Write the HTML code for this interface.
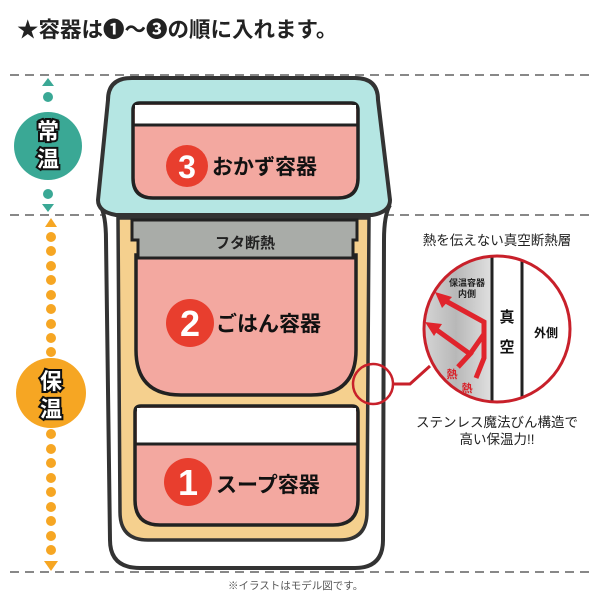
<!DOCTYPE html>
<html><head><meta charset="utf-8"><style>
html,body{margin:0;padding:0;background:#fff;}
svg{display:block;}
text{font-family:"Liberation Sans","Noto Sans CJK JP",sans-serif;}
</style></head><body>
<svg width="600" height="600" viewBox="0 0 600 600" xmlns="http://www.w3.org/2000/svg">
<text x="17" y="37" font-size="21.5" font-weight="bold" fill="#222">★容器は❶〜❸の順に入れます。</text>
<g stroke="#888" stroke-width="2" stroke-dasharray="9,6">
<line x1="10" y1="75" x2="595" y2="75"/>
<line x1="10" y1="215" x2="595" y2="215"/>
<line x1="10" y1="572" x2="595" y2="572"/>
</g>
<polygon points="48,78 42,86 54,86" fill="#3aa895"/>
<circle cx="48" cy="97" r="5" fill="#3aa895"/>
<circle cx="48" cy="146" r="34" fill="#3aa895"/>
<circle cx="48" cy="194" r="5" fill="#3aa895"/>
<polygon points="48,212 42,204 54,204" fill="#3aa895"/>
<g font-size="22" font-weight="bold" fill="#fff" stroke="#111" stroke-width="4" paint-order="stroke" text-anchor="middle">
<text x="48" y="139">常</text><text x="48" y="167">温</text>
</g>
<polygon points="51,218 45,227 57,227" fill="#f6a623"/>
<g fill="#f6a623">
<circle cx="51" cy="237" r="5"/><circle cx="51" cy="251" r="5"/><circle cx="51" cy="266" r="5"/><circle cx="51" cy="280" r="5"/><circle cx="51" cy="295" r="5"/><circle cx="51" cy="309" r="5"/><circle cx="51" cy="324" r="5"/><circle cx="51" cy="338" r="5"/><circle cx="51" cy="352" r="5"/>
<circle cx="51" cy="393" r="35"/>
<circle cx="51" cy="434" r="5"/><circle cx="51" cy="449" r="5"/><circle cx="51" cy="463" r="5"/><circle cx="51" cy="478" r="5"/><circle cx="51" cy="492" r="5"/><circle cx="51" cy="507" r="5"/><circle cx="51" cy="521" r="5"/><circle cx="51" cy="536" r="5"/><circle cx="51" cy="550" r="5"/>
<polygon points="51,571 44,561 58,561"/>
</g>
<g font-size="22" font-weight="bold" fill="#fff" stroke="#111" stroke-width="4" paint-order="stroke" text-anchor="middle">
<text x="51" y="389">保</text><text x="51" y="417">温</text>
</g>
<path d="M100,205 Q106,215 106,240 L110,540 Q110,568 140,568 L355,568 Q383,568 383,540 L384,240 Q384,215 390,205" fill="#fff" stroke="#333" stroke-width="4"/>
<path d="M118,218 L120,512 Q120,540 148,540 L340,540 Q367,540 367,512 L369,218 Z" fill="#f5d08e" stroke="#333" stroke-width="3.5"/>
<path d="M108,100 Q108,78 132,78 L355,78 Q378,78 378,100 L390,200 Q390,212 372,215 L116,215 Q98,212 98,200 Z" fill="#b5e6e3" stroke="#333" stroke-width="4"/>
<path d="M133,110 Q133,103 140,103 L351,103 Q358,103 358,110 L358,178 Q358,198 338,198 L153,198 Q133,198 133,178 Z" fill="#f3a8a0" stroke="#222" stroke-width="3.5"/>
<rect x="135" y="105" width="221" height="20" fill="#fff"/>
<line x1="134" y1="125" x2="357" y2="125" stroke="#222" stroke-width="3"/>
<path d="M136,255 L136,350 Q136,395 181,395 L311,395 Q356,395 356,350 L356,255 Z" fill="#f3a8a0" stroke="#222" stroke-width="3.5"/>
<path d="M132,220 L357,220 L357,240 L353,240 L353,258 L138,258 L138,240 L132,240 Z" fill="#a9aca8" stroke="#222" stroke-width="3"/>
<text x="245" y="248" font-size="15" font-weight="bold" fill="#222" text-anchor="middle">フタ断熱</text>
<path d="M135,412 Q135,406 141,406 L352,406 Q358,406 358,412 L358,500 Q358,525 333,525 L160,525 Q135,525 135,500 Z" fill="#f3a8a0" stroke="#222" stroke-width="3.5"/>
<rect x="137" y="408" width="219" height="35" fill="#fff"/>
<line x1="136" y1="444" x2="357" y2="444" stroke="#222" stroke-width="3"/>
<g fill="#e83e2e"><circle cx="187" cy="166" r="21"/><circle cx="190" cy="323" r="24"/><circle cx="188" cy="482" r="24"/></g>
<g font-weight="bold" fill="#fff" text-anchor="middle">
<text x="187" y="178" font-size="32">3</text><text x="190" y="336" font-size="36">2</text><text x="188" y="495" font-size="36">1</text>
</g>
<g font-weight="bold" fill="#111" font-size="21">
<text x="212" y="174">おかず容器</text><text x="216" y="331">ごはん容器</text><text x="216" y="492">スープ容器</text>
</g>
<circle cx="373" cy="384" r="20" fill="none" stroke="#c8202a" stroke-width="2.5"/>
<polyline points="393,384 410,384 430,366" fill="none" stroke="#c8202a" stroke-width="3"/>
<defs><clipPath id="cc"><circle cx="497" cy="329" r="73"/></clipPath>
<linearGradient id="gg" x1="0" x2="1"><stop offset="0" stop-color="#d8d8d8"/><stop offset="0.5" stop-color="#b8b8b8"/><stop offset="1" stop-color="#e0e0e0"/></linearGradient></defs>
<g clip-path="url(#cc)">
<rect x="420" y="250" width="150" height="160" fill="#fff"/>
<rect x="420" y="250" width="72" height="160" fill="url(#gg)"/>
<line x1="492" y1="250" x2="492" y2="410" stroke="#222" stroke-width="3"/>
<line x1="522" y1="250" x2="522" y2="410" stroke="#222" stroke-width="3"/>
<g fill="none" stroke="#e0242c" stroke-width="5" stroke-linejoin="miter">
<polyline points="476,378 484,358 484,322 444,300"/>
<polyline points="458,367 470,354 434,328"/>
<polyline points="470,354 484,334"/>
</g>
<polygon points="435,292 452,297 442,308" fill="#e0242c"/>
<polygon points="425,322 442,324 434,336" fill="#e0242c"/>
</g>
<circle cx="497" cy="329" r="73" fill="none" stroke="#c8202a" stroke-width="3"/>
<text x="467" y="286" font-size="9" font-weight="bold" fill="#222" text-anchor="middle">保温容器</text>
<text x="467" y="297" font-size="9" font-weight="bold" fill="#222" text-anchor="middle">内側</text>
<text x="507" y="322" font-size="15" font-weight="bold" fill="#111" text-anchor="middle">真</text>
<text x="507" y="352" font-size="15" font-weight="bold" fill="#111" text-anchor="middle">空</text>
<text x="546" y="337" font-size="12" font-weight="bold" fill="#111" text-anchor="middle">外側</text>
<text x="452" y="378" font-size="11" font-weight="bold" fill="#d8242c" text-anchor="middle">熱</text>
<text x="467" y="392" font-size="11" font-weight="bold" fill="#d8242c" text-anchor="middle">熱</text>
<text x="497" y="245" font-size="13.5" fill="#222" text-anchor="middle">熱を伝えない真空断熱層</text>
<text x="497" y="427" font-size="13.5" fill="#222" text-anchor="middle">ステンレス魔法びん構造で</text>
<text x="497" y="444" font-size="13.5" fill="#222" text-anchor="middle">高い保温力!!</text>
<text x="228" y="589" font-size="10.5" fill="#555">※イラストはモデル図です。</text>
</svg>
</body></html>
